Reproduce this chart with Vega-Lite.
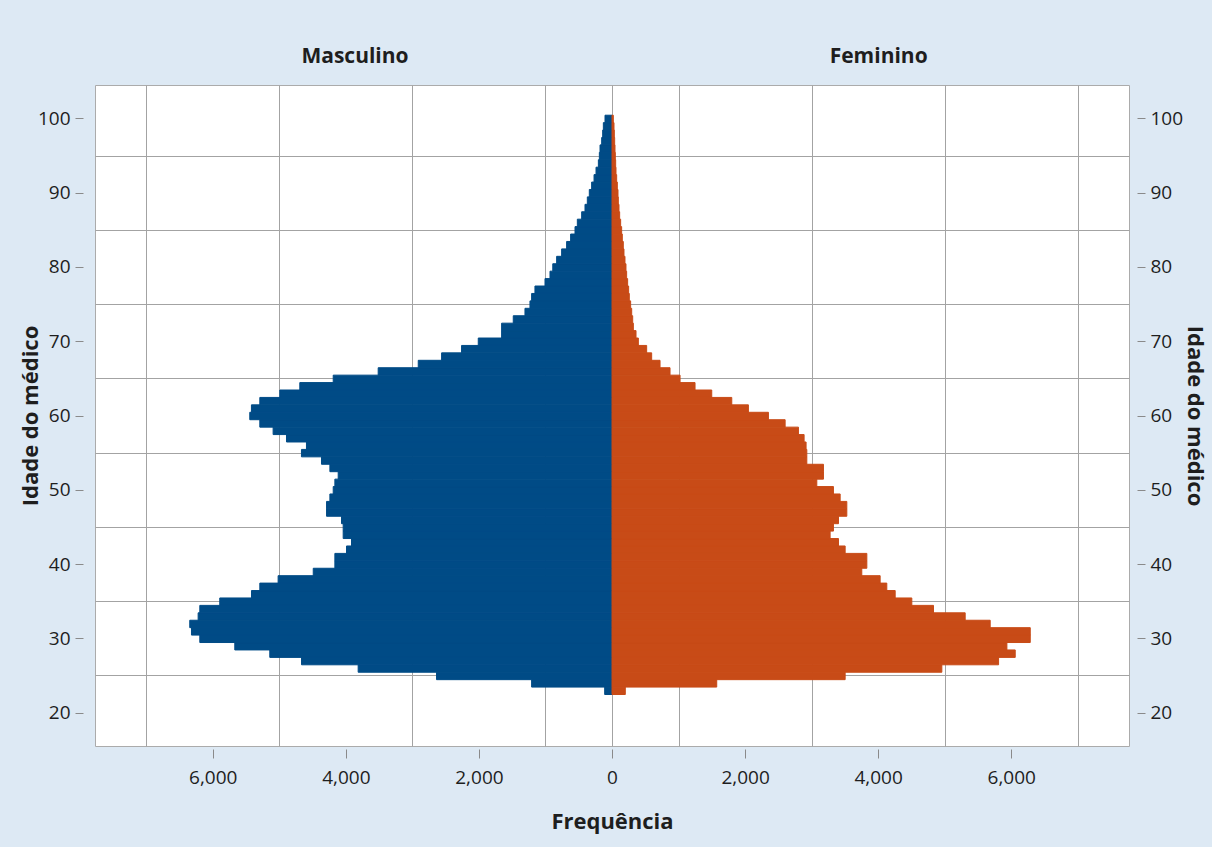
{
  "$schema": "https://vega.github.io/schema/vega-lite/v6.json",
  "width": 1034,
  "height": 661,
  "autosize": "none",
  "padding": {"left": 95, "top": 85, "right": 83, "bottom": 101},
  "background": "#dde9f4",
  "config": {
    "font": "Open Sans",
    "view": {"fill": "#ffffff", "stroke": "#ababab", "strokeWidth": 1}
  },
  "datasets": {
    "masculino": [
      {"idade": 22, "frequencia": 30}, {"idade": 23, "frequencia": 110}, {"idade": 24, "frequencia": 1208},
      {"idade": 25, "frequencia": 2637}, {"idade": 26, "frequencia": 3815}, {"idade": 27, "frequencia": 4666},
      {"idade": 28, "frequencia": 5143}, {"idade": 29, "frequencia": 5669}, {"idade": 30, "frequencia": 6195},
      {"idade": 31, "frequencia": 6320}, {"idade": 32, "frequencia": 6346}, {"idade": 33, "frequencia": 6220},
      {"idade": 34, "frequencia": 6195}, {"idade": 35, "frequencia": 5895}, {"idade": 36, "frequencia": 5418},
      {"idade": 37, "frequencia": 5293}, {"idade": 38, "frequencia": 5018}, {"idade": 39, "frequencia": 4490},
      {"idade": 40, "frequencia": 4165}, {"idade": 41, "frequencia": 4165}, {"idade": 42, "frequencia": 3990},
      {"idade": 43, "frequencia": 3915}, {"idade": 44, "frequencia": 4040}, {"idade": 45, "frequencia": 4040},
      {"idade": 46, "frequencia": 4065}, {"idade": 47, "frequencia": 4290}, {"idade": 48, "frequencia": 4290},
      {"idade": 49, "frequencia": 4240}, {"idade": 50, "frequencia": 4190}, {"idade": 51, "frequencia": 4165},
      {"idade": 52, "frequencia": 4115}, {"idade": 53, "frequencia": 4240}, {"idade": 54, "frequencia": 4366},
      {"idade": 55, "frequencia": 4667}, {"idade": 56, "frequencia": 4592}, {"idade": 57, "frequencia": 4892},
      {"idade": 58, "frequencia": 5093}, {"idade": 59, "frequencia": 5293}, {"idade": 60, "frequencia": 5444},
      {"idade": 61, "frequencia": 5419}, {"idade": 62, "frequencia": 5293}, {"idade": 63, "frequencia": 4992},
      {"idade": 64, "frequencia": 4692}, {"idade": 65, "frequencia": 4190}, {"idade": 66, "frequencia": 3514},
      {"idade": 67, "frequencia": 2912}, {"idade": 68, "frequencia": 2561}, {"idade": 69, "frequencia": 2261},
      {"idade": 70, "frequencia": 2010}, {"idade": 71, "frequencia": 1659}, {"idade": 72, "frequencia": 1659},
      {"idade": 73, "frequencia": 1484}, {"idade": 74, "frequencia": 1308}, {"idade": 75, "frequencia": 1233},
      {"idade": 76, "frequencia": 1208}, {"idade": 77, "frequencia": 1158}, {"idade": 78, "frequencia": 1007},
      {"idade": 79, "frequencia": 932}, {"idade": 80, "frequencia": 890}, {"idade": 81, "frequencia": 832},
      {"idade": 82, "frequencia": 757}, {"idade": 83, "frequencia": 682}, {"idade": 84, "frequencia": 622},
      {"idade": 85, "frequencia": 556}, {"idade": 86, "frequencia": 521}, {"idade": 87, "frequencia": 456},
      {"idade": 88, "frequencia": 406}, {"idade": 89, "frequencia": 371}, {"idade": 90, "frequencia": 341},
      {"idade": 91, "frequencia": 306}, {"idade": 92, "frequencia": 270}, {"idade": 93, "frequencia": 240},
      {"idade": 94, "frequencia": 205}, {"idade": 95, "frequencia": 190}, {"idade": 96, "frequencia": 180},
      {"idade": 97, "frequencia": 155}, {"idade": 98, "frequencia": 140}, {"idade": 99, "frequencia": 130},
      {"idade": 100, "frequencia": 105}
    ],
    "feminino": [
      {"idade": 22, "frequencia": 120}, {"idade": 23, "frequencia": 200}, {"idade": 24, "frequencia": 1574},
      {"idade": 25, "frequencia": 3504}, {"idade": 26, "frequencia": 4957}, {"idade": 27, "frequencia": 5810},
      {"idade": 28, "frequencia": 6060}, {"idade": 29, "frequencia": 5935}, {"idade": 30, "frequencia": 6286},
      {"idade": 31, "frequencia": 6286}, {"idade": 32, "frequencia": 5684}, {"idade": 33, "frequencia": 5308},
      {"idade": 34, "frequencia": 4832}, {"idade": 35, "frequencia": 4506}, {"idade": 36, "frequencia": 4256},
      {"idade": 37, "frequencia": 4130}, {"idade": 38, "frequencia": 4030}, {"idade": 39, "frequencia": 3754},
      {"idade": 40, "frequencia": 3830}, {"idade": 41, "frequencia": 3830}, {"idade": 42, "frequencia": 3504},
      {"idade": 43, "frequencia": 3404}, {"idade": 44, "frequencia": 3278}, {"idade": 45, "frequencia": 3328},
      {"idade": 46, "frequencia": 3404}, {"idade": 47, "frequencia": 3529}, {"idade": 48, "frequencia": 3529},
      {"idade": 49, "frequencia": 3429}, {"idade": 50, "frequencia": 3328}, {"idade": 51, "frequencia": 3078},
      {"idade": 52, "frequencia": 3178}, {"idade": 53, "frequencia": 3178}, {"idade": 54, "frequencia": 2928},
      {"idade": 55, "frequencia": 2928}, {"idade": 56, "frequencia": 2917}, {"idade": 57, "frequencia": 2887},
      {"idade": 58, "frequencia": 2802}, {"idade": 59, "frequencia": 2602}, {"idade": 60, "frequencia": 2351},
      {"idade": 61, "frequencia": 2050}, {"idade": 62, "frequencia": 1800}, {"idade": 63, "frequencia": 1499},
      {"idade": 64, "frequencia": 1248}, {"idade": 65, "frequencia": 1023}, {"idade": 66, "frequencia": 872},
      {"idade": 67, "frequencia": 722}, {"idade": 68, "frequencia": 596}, {"idade": 69, "frequencia": 521},
      {"idade": 70, "frequencia": 396}, {"idade": 71, "frequencia": 361}, {"idade": 72, "frequencia": 321},
      {"idade": 73, "frequencia": 311}, {"idade": 74, "frequencia": 296}, {"idade": 75, "frequencia": 280},
      {"idade": 76, "frequencia": 260}, {"idade": 77, "frequencia": 250}, {"idade": 78, "frequencia": 235},
      {"idade": 79, "frequencia": 220}, {"idade": 80, "frequencia": 210}, {"idade": 81, "frequencia": 195},
      {"idade": 82, "frequencia": 180}, {"idade": 83, "frequencia": 170}, {"idade": 84, "frequencia": 155},
      {"idade": 85, "frequencia": 145}, {"idade": 86, "frequencia": 130}, {"idade": 87, "frequencia": 115},
      {"idade": 88, "frequencia": 105}, {"idade": 89, "frequencia": 95}, {"idade": 90, "frequencia": 90},
      {"idade": 91, "frequencia": 80}, {"idade": 92, "frequencia": 70}, {"idade": 93, "frequencia": 60},
      {"idade": 94, "frequencia": 55}, {"idade": 95, "frequencia": 50}, {"idade": 96, "frequencia": 45},
      {"idade": 97, "frequencia": 40}, {"idade": 98, "frequencia": 35}, {"idade": 99, "frequencia": 30},
      {"idade": 100, "frequencia": 20}
    ]
  },
  "layer": [
    {
      "data": {"name": "masculino"},
      "mark": {"type": "bar", "color": "#004b86", "stroke": "#004b86", "strokeWidth": 1, "binSpacing": 0},
      "encoding": {
        "y": {
          "field": "idade", "type": "quantitative",
          "bin": {"step": 1, "anchor": 0.5},
          "scale": {"domain": [15.5, 104.5], "nice": false, "zero": false},
          "axis": {
            "orient": "left",
            "title": "Idade do médico",
            "values": [20, 25, 30, 35, 40, 45, 50, 55, 60, 65, 70, 75, 80, 85, 90, 95, 100],
            "labelExpr": "datum.value % 10 === 0 ? format(datum.value, 'd') : ''",
            "grid": true,
            "gridColor": "#a3a3a3",
            "gridWidth": 1,
            "gridOpacity": {"condition": {"test": "datum.value % 10 !== 0", "value": 1}, "value": 0},
            "tickOpacity": {"condition": {"test": "datum.value % 10 === 0", "value": 1}, "value": 0},
            "tickColor": "#8a8a8a",
            "domain": false,
            "tickSize": 8,
            "offset": 12,
            "labelPadding": 5,
            "labelFontSize": 19,
            "labelColor": "#1e1e1e",
            "titleFontSize": 22,
            "titleFontWeight": "bold",
            "titleColor": "#1e1e1e",
            "titlePadding": -5
          }
        },
        "x": {
          "field": "frequencia", "type": "quantitative",
          "scale": {"domain": [-7770, 7770], "reverse": true, "nice": false},
          "axis": {
            "orient": "bottom",
            "title": "Frequência",
            "values": [-7000, -6000, -5000, -4000, -3000, -2000, -1000, 0, 1000, 2000, 3000, 4000, 5000, 6000, 7000],
            "labelExpr": "datum.value % 2000 === 0 ? format(abs(datum.value), ',') : ''",
            "grid": true,
            "gridColor": "#a3a3a3",
            "gridWidth": 1,
            "gridOpacity": {"condition": {"test": "datum.value % 2000 !== 0 || datum.value === 0", "value": 1}, "value": 0},
            "tickOpacity": {"condition": {"test": "datum.value % 2000 === 0", "value": 1}, "value": 0},
            "tickColor": "#8a8a8a",
            "domain": false,
            "tickSize": 9,
            "offset": 3,
            "labelPadding": 10,
            "labelFontSize": 19,
            "labelColor": "#1e1e1e",
            "labelFlush": false,
            "titleFontSize": 22,
            "titleFontWeight": "bold",
            "titleColor": "#1e1e1e",
            "titlePadding": 24
          }
        }
      }
    },
    {
      "data": {"name": "feminino"},
      "mark": {"type": "bar", "color": "#c84b17", "stroke": "#c84b17", "strokeWidth": 1, "binSpacing": 0},
      "encoding": {
        "y": {
          "field": "idade", "type": "quantitative",
          "bin": {"step": 1, "anchor": 0.5},
          "axis": {
            "orient": "right",
            "title": "Idade do médico",
            "values": [20, 30, 40, 50, 60, 70, 80, 90, 100],
            "format": "d",
            "grid": false,
            "tickColor": "#8a8a8a",
            "domain": false,
            "tickSize": 8,
            "offset": 8,
            "labelPadding": 5,
            "labelFontSize": 19,
            "labelColor": "#1e1e1e",
            "titleFontSize": 22,
            "titleFontWeight": "bold",
            "titleColor": "#1e1e1e",
            "titlePadding": 0
          }
        },
        "x": {
          "field": "frequencia", "type": "quantitative",
          "scale": {"domain": [-7770, 7770], "nice": false},
          "axis": {
            "orient": "top",
            "title": null,
            "values": [-3870, 4000],
            "labelExpr": "datum.value < 0 ? 'Masculino' : 'Feminino'",
            "grid": false,
            "ticks": false,
            "tickSize": 0,
            "domain": false,
            "labelPadding": 19,
            "labelFontSize": 21,
            "labelFontWeight": "bold",
            "labelColor": "#1e1e1e"
          }
        }
      }
    }
  ],
  "resolve": {"scale": {"x": "independent"}, "axis": {"x": "independent", "y": "independent"}}
}
